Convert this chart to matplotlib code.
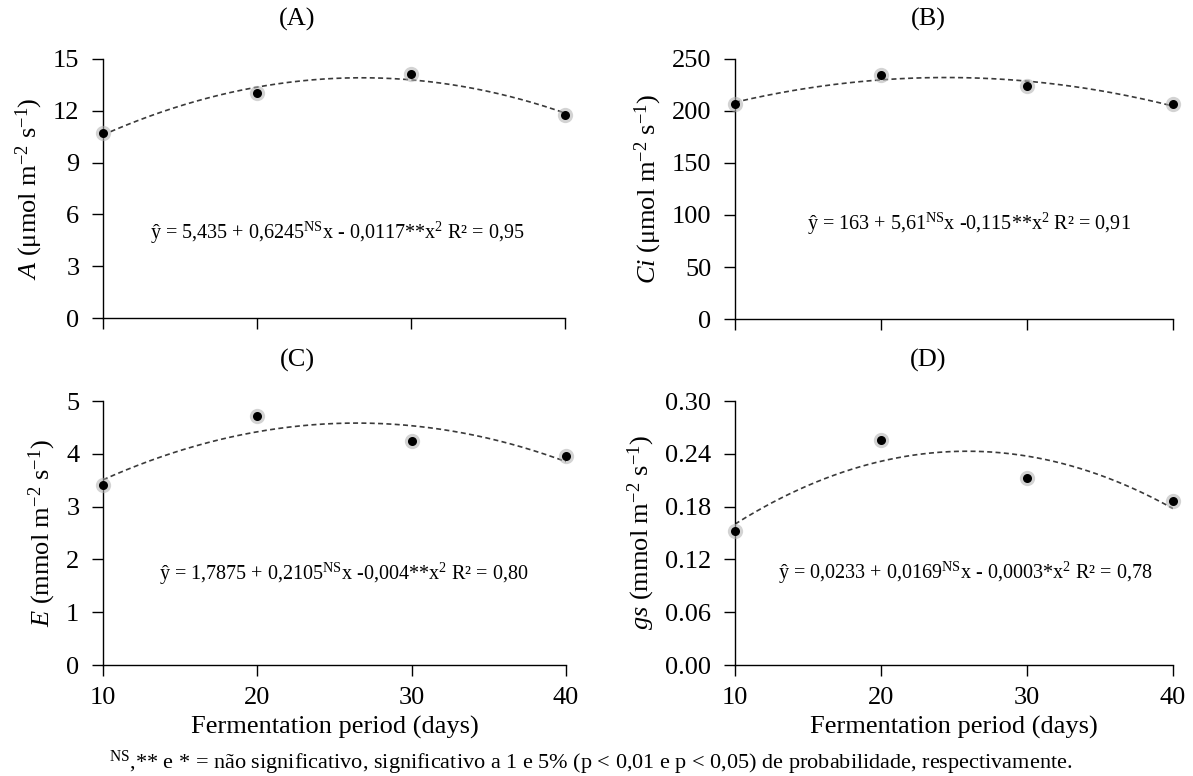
import matplotlib
matplotlib.use("Agg")
import matplotlib.pyplot as plt
import numpy as np
from matplotlib.ticker import FormatStrFormatter

plt.rcParams["font.family"] = ["Liberation Serif", "DejaVu Serif"]
plt.rcParams["mathtext.fontset"] = "custom"
plt.rcParams["mathtext.rm"] = "Liberation Serif"
plt.rcParams["mathtext.it"] = "Liberation Serif:italic"

# Fermentation period (days)
days = [10, 20, 30, 40]

photosynthesis = [10.72, 13.01, 14.15, 11.75]     # A
internal_co2 = [206.7, 234.9, 223.7, 206.4]       # Ci
transpiration = [3.41, 4.71, 4.24, 3.95]          # E
conductance = [0.152, 0.256, 0.213, 0.186]        # gs

titles = ["(A)", "(B)", "(C)", "(D)"]
ylabels = [
    r"$\it{A}$ (μmol m$^{-2}$ s$^{-1}$)",
    r"$\it{Ci}$ (μmol m$^{-2}$ s$^{-1}$)",
    r"$\it{E}$ (mmol m$^{-2}$ s$^{-1}$)",
    r"$\it{gs}$ (mmol m$^{-2}$ s$^{-1}$)",
]
equations = [
    r"ŷ = 5,435 + 0,6245$^{\rm NS}$x - 0,0117**x$^2$ R² = 0,95",
    r"ŷ = 163 + 5,61$^{\rm NS}$x -0,115**x$^2$ R² = 0,91",
    r"ŷ = 1,7875 + 0,2105$^{\rm NS}$x -0,004**x$^2$ R² = 0,80",
    r"ŷ = 0,0233 + 0,0169$^{\rm NS}$x - 0,0003*x$^2$ R² = 0,78",
]
yticks = [
    np.arange(0, 16, 3),
    np.arange(0, 251, 50),
    np.arange(0, 6, 1),
    np.arange(0, 0.31, 0.06),
]

fig = plt.figure(figsize=(11.93, 7.76), dpi=100)

# axes boxes in figure fractions [left, bottom, width, height]
boxes = [
    [0.0863, 0.5902, 0.3873, 0.3338],
    [0.6161, 0.5889, 0.3671, 0.3351],
    [0.0863, 0.1430, 0.3881, 0.3402],
    [0.6161, 0.1430, 0.3671, 0.3402],
]
title_pos = [(0.249, 0.975), (0.778, 0.975), (0.249, 0.536), (0.778, 0.536)]
eq_pos = [(25.2, 4.9), (26.0, 91.8), (25.6, 1.73), (25.8, 0.105)]

series = [photosynthesis, internal_co2, transpiration, conductance]
xfit = np.linspace(10, 40, 200)

for i, vals in enumerate(series):
    ax = fig.add_axes(boxes[i])

    # quadratic trend line fitted to the means
    coefs = np.polyfit(days, vals, 2)
    ax.plot(xfit, np.polyval(coefs, xfit), color="#3a3a3a", lw=1.2,
            linestyle=(0, (3, 2)), zorder=2)

    # points with a soft grey halo
    ax.plot(days, vals, "o", ms=11, color="#b0b0b0", alpha=0.55,
            markeredgewidth=0, clip_on=False, zorder=3)
    ax.plot(days, vals, "o", ms=6.5, color="black", markeredgewidth=0,
            clip_on=False, zorder=4)

    ax.set_xlim(10, 40)
    ax.set_xticks(days)
    ax.set_ylim(yticks[i][0], yticks[i][-1])
    ax.set_yticks(yticks[i])
    if i == 3:
        ax.yaxis.set_major_formatter(FormatStrFormatter("%.2f"))

    for side in ["top", "right"]:
        ax.spines[side].set_visible(False)
    for side in ["left", "bottom"]:
        ax.spines[side].set_linewidth(1.0)
    ax.tick_params(direction="out", length=8, width=1.0, labelsize=19)
    ax.tick_params(axis="y", pad=9)
    ax.tick_params(axis="x", pad=8)

    if i < 2:
        ax.set_xticklabels([])
    else:
        ax.set_xlabel("Fermentation period (days)", fontsize=19, labelpad=5)

    ax.set_ylabel(ylabels[i], fontsize=19, labelpad=6)
    ax.text(eq_pos[i][0], eq_pos[i][1], equations[i], ha="center",
            va="center", fontsize=14.5)

    fig.text(title_pos[i][0], title_pos[i][1], titles[i], ha="center",
             va="center", fontsize=19)

fig.text(0.495, 0.017,
         r"$^{\rm NS}$,** e * = não significativo, significativo a 1 e 5% "
         r"(p < 0,01 e p < 0,05) de probabilidade, respectivamente.",
         ha="center", va="center", fontsize=16)

fig.savefig("out.png", dpi=100)
